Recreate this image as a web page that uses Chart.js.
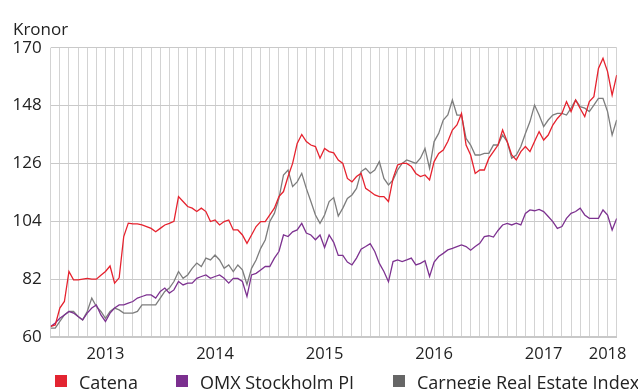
<!DOCTYPE html>
<html>
<head>
<meta charset="utf-8">
<script src="https://cdn.jsdelivr.net/npm/chart.js@4"></script>
<style>
  html, body { margin: 0; padding: 0; background: #fff; }
  #wrap { position: relative; width: 638px; height: 389px; overflow: hidden; font-family: "Open Sans", sans-serif; color: #222; }
  #chart { position: absolute; left: 0; top: 0; }
  .unit { position: absolute; left: 13px; top: 20px; font-size: 17px; line-height: 17px; }
  .item { position: absolute; top: 373px; font-size: 18px; line-height: 18px; white-space: nowrap; }
  .item i { position: absolute; top: 2px; width: 12px; height: 12px; }
</style>
</head>
<body>
<div id="wrap">
  <canvas id="chart" width="638" height="389"></canvas>
  <div class="unit">Kronor</div>
  <div id="legend"></div>
</div>
<script>
// x position in months from start of the series, sampled every half month
const step = 0.5;

const catena = [
  64, 64.6, 71, 73.5, 84.9, 81.7, 81.7, 82, 82.3, 82,
  82, 83.5, 84.9, 87, 80.5, 82.5, 98.2, 103.3, 103, 103,
  102.6, 102, 101.3, 100, 101.3, 102.6, 103.2, 104, 113.4, 111.5,
  109.6, 109, 107.7, 109, 107.7, 103.9, 104.5, 102.6, 103.9, 104.5,
  100.7, 100.7, 98.8, 95.6, 98.8, 102, 103.9, 103.9, 106.4, 109,
  113.4, 115.3, 121, 126, 133.6, 137, 134.3, 133, 132.4, 128,
  131.7, 130.5, 130, 127.3, 126, 120.3, 119, 121, 122.2, 116.5,
  115.3, 114, 113.4, 113.4, 111.5, 120.3, 125.4, 126, 126, 124.8,
  122.2, 121, 121.6, 119.7, 126.7, 129.8, 131.1, 134.3, 138.7, 140.6,
  145, 133, 129.2, 122.2, 123.5, 123.5, 128, 130.5, 133, 138.7,
  134.3, 129.2, 127.3, 130.5, 132.4, 130.5, 134.3, 138.1, 134.9, 136.8,
  140.6, 143.1, 145, 149.5, 145.7, 150.1, 146.9, 143.8, 149.5, 151.4,
  162.1, 166, 160.9, 152, 159.6
];

const omx = [
  64, 65.3, 67.1, 68.4, 69.7, 69.1, 67.8, 66.5, 69.1, 71,
  72.2, 68.4, 65.9, 69.1, 71, 72.2, 72.2, 72.9, 73.5, 74.8,
  75.4, 76, 76, 74.8, 77.3, 78.6, 76.7, 77.9, 81.1, 79.8,
  80.5, 80.5, 82.3, 83, 83.6, 82.3, 83, 83.6, 82.3, 80.5,
  82.3, 82.3, 81.1, 75.4, 83.6, 84.2, 85.5, 86.8, 86.8, 90,
  92.5, 98.8, 98.2, 100, 100.7, 103.2, 99.5, 98.8, 97, 98.8,
  94, 98.8, 96, 91, 91, 88.5, 87.4, 90, 93.4, 94.4,
  95.5, 92.5, 88, 84.9, 81, 88.7, 89.3, 88.7, 89.3, 90,
  87.4, 88, 89, 83, 88.5, 90.6, 91.8, 93.1, 93.7, 94.4,
  95, 94.4, 93, 94.4, 95.6, 98.2, 98.5, 98, 100.5, 102.6,
  103.2, 102.6, 103.3, 102.6, 107, 108.3, 108, 108.5, 107.7, 105.8,
  103.9, 101.3, 102, 105.1, 107, 107.7, 109, 106.4, 105.1, 105.1,
  105.1, 108.3, 106.4, 100.7, 105.1
];

const carnegie = [
  63.4, 63.4, 65.9, 68.4, 69.7, 69.7, 67.8, 66.5, 69.7, 74.8,
  71.6, 69.7, 67.1, 69.7, 71, 70.3, 69.1, 69.1, 69.1, 69.7,
  72.2, 72.2, 72.2, 72.2, 74.8, 77.3, 78.6, 81.1, 84.9, 82.3,
  83.6, 86.1, 88.1, 86.8, 90, 89.3, 91.2, 89.3, 86.1, 87.4,
  84.9, 87.4, 85.5, 80, 86.1, 89.3, 93.7, 96.9, 103.9, 107,
  112.7, 121.6, 123.5, 117.2, 119, 122.2, 116.5, 111.5, 106.4, 103.2,
  106.4, 111.5, 113, 106, 109, 112.7, 114, 116.5, 122.9, 124.1,
  122.2, 123.5, 126.7, 120.3, 117.8, 119.7, 123.5, 126, 127.3, 126.7,
  126, 128, 131.7, 124.1, 134.3, 137.4, 142.5, 144.4, 150.1, 144.4,
  144.4, 135.5, 133, 129.2, 129.2, 129.8, 129.8, 133, 133, 136.8,
  134.3, 128, 129.2, 132.4, 137.4, 141.9, 148.2, 144.4, 140, 142.5,
  144.4, 145, 145, 144.4, 147, 150.1, 147.6, 147, 145.7, 148.2,
  150.7, 150.7, 145.7, 136.8, 142.5
];

const yearTicks = [6, 18, 30, 42, 54, 61];
const yearLabels = ["2013", "2014", "2015", "2016", "2017", "2018"];

const series = [
  { label: "Catena", data: catena, color: "#e6222e", box: "#e32431", left: 55 },
  { label: "OMX Stockholm PI", data: omx, color: "#7d3290", box: "#7b2f8f", left: 176 },
  { label: "Carnegie Real Estate Index", data: carnegie, color: "#7d7d7d", box: "#666666", left: 393 }
];

const toPoints = (vals) => vals.map((v, k) => ({ x: k * step, y: v }));

// legend row under the chart
const legend = document.getElementById("legend");
series.forEach(s => {
  const el = document.createElement("div");
  el.className = "item";
  el.style.left = s.left + "px";
  el.innerHTML = `<i style="left:0;background:${s.box}"></i><span style="margin-left:24px">${s.label}</span>`;
  legend.appendChild(el);
});

const ctx = document.getElementById("chart").getContext("2d");
new Chart(ctx, {
  type: "line",
  data: {
    datasets: series.map(s => ({
      label: s.label,
      data: toPoints(s.data),
      borderColor: s.color,
      borderWidth: 1.3,
      pointRadius: 0,
      tension: 0,
      fill: false
    }))
  },
  options: {
    responsive: false,
    animation: false,
    layout: { padding: { top: 47.7, right: 21.3, left: 0, bottom: 0 } },
    plugins: { legend: { display: false }, tooltip: { enabled: false } },
    scales: {
      x: {
        type: "linear",
        min: 0,
        max: 62,
        afterFit: (scale) => { scale.height = 52; },
        grid: { color: "#d3d3d3", lineWidth: 1, drawTicks: false },
        border: { display: true, color: "#c8c8c8", width: 2 },
        ticks: {
          stepSize: 1,
          autoSkip: false,
          maxRotation: 0,
          padding: 7,
          color: "#222",
          font: { family: "Open Sans", size: 16.5 },
          callback: (v) => {
            const k = yearTicks.indexOf(v);
            return k >= 0 ? yearLabels[k] : "";
          }
        }
      },
      y: {
        min: 60,
        max: 170,
        afterFit: (scale) => { scale.width = 50.7; },
        grid: { color: "#c9c9c9", lineWidth: 1, drawTicks: false },
        border: { display: false },
        ticks: {
          stepSize: 22,
          padding: 9,
          color: "#222",
          font: { family: "Open Sans", size: 17 }
        }
      }
    }
  }
});
</script>
</body>
</html>
